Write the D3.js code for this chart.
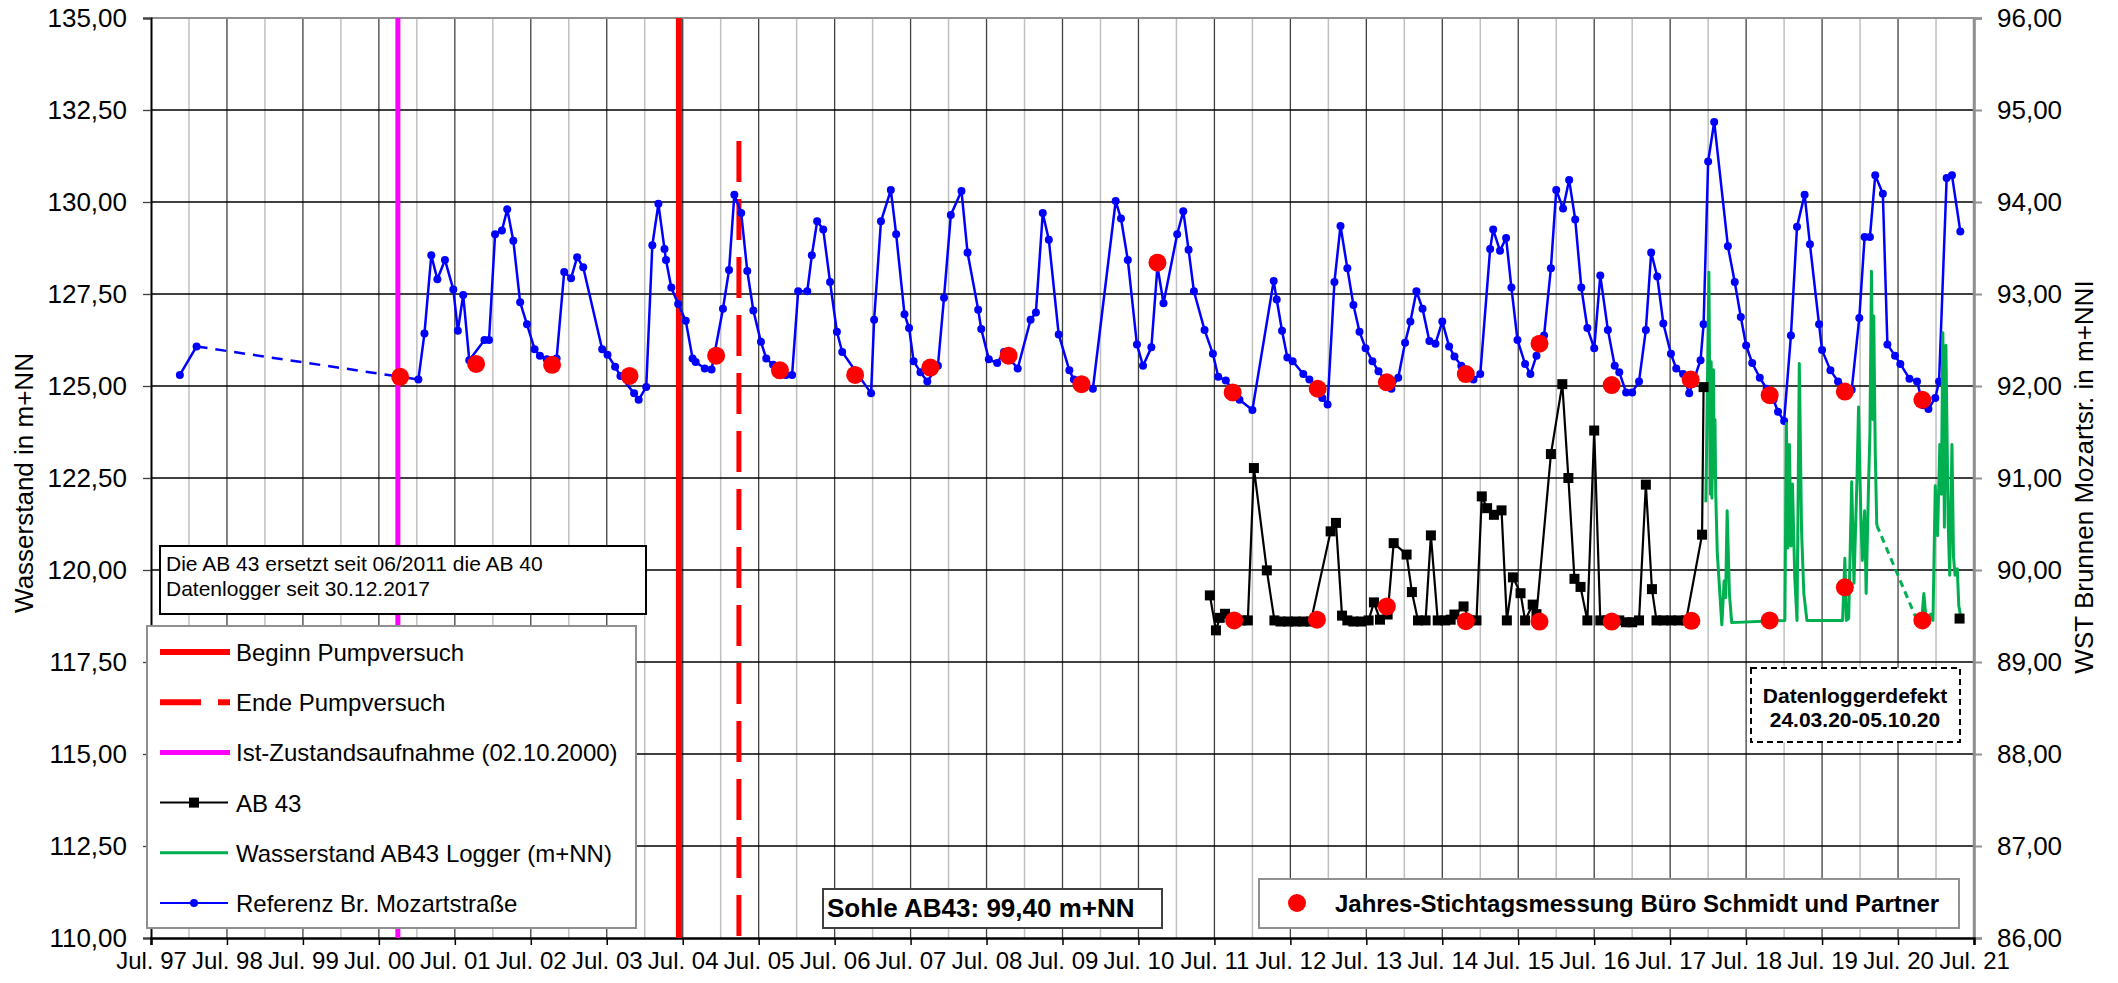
<!DOCTYPE html>
<html><head><meta charset="utf-8">
<script src="https://cdn.jsdelivr.net/npm/d3@7"></script>
<style>
body{margin:0;background:#fff}
svg{display:block}
text{font-family:"Liberation Sans",Arial,sans-serif;fill:#000}
</style>
</head><body>
<svg id="chart" width="2118" height="983"></svg>
<script>
// ---------------- data (decimal years, m+NN) ----------------
const xTickYears = [1997.5,1998.5,1999.5,2000.5,2001.5,2002.5,2003.5,2004.5,2005.5,2006.5,2007.5,2008.5,2009.5,2010.5,2011.5,2012.5,2013.5,2014.5,2015.5,2016.5,2017.5,2018.5,2019.5,2020.5,2021.5];
const xTickLabels = ["Jul. 97","Jul. 98","Jul. 99","Jul. 00","Jul. 01","Jul. 02","Jul. 03","Jul. 04","Jul. 05","Jul. 06","Jul. 07","Jul. 08","Jul. 09","Jul. 10","Jul. 11","Jul. 12","Jul. 13","Jul. 14","Jul. 15","Jul. 16","Jul. 17","Jul. 18","Jul. 19","Jul. 20","Jul. 21"];
const leftTicks = [110,112.5,115,117.5,120,122.5,125,127.5,130,132.5,135];
const rightTicks = [86,87,88,89,90,91,92,93,94,95,96];

// Referenz Br. Mozartstraße (right axis)
const refEarlyYears = [1997.88,1998.10];
const refEarlyLevels = [92.12,92.43];
const refYears = [2000.78,2001.02,2001.10,2001.19,2001.27,2001.37,2001.48,2001.54,2001.61,2001.69,2001.89,2001.95,2002.03,2002.12,2002.19,2002.27,2002.36,2002.45,2002.55,2002.62,2002.71,2002.84,2002.94,2003.03,2003.11,2003.19,2003.44,2003.51,2003.61,2003.68,2003.86,2003.92,2004.02,2004.10,2004.18,2004.26,2004.28,2004.35,2004.44,2004.54,2004.63,2004.67,2004.79,2004.88,2005.03,2005.11,2005.18,2005.27,2005.35,2005.43,2005.53,2005.60,2005.69,2005.86,2005.94,2006.02,2006.14,2006.20,2006.27,2006.35,2006.44,2006.53,2006.60,2006.98,2007.02,2007.11,2007.24,2007.31,2007.42,2007.48,2007.54,2007.63,2007.72,2007.86,2007.94,2008.03,2008.17,2008.25,2008.39,2008.43,2008.53,2008.64,2008.73,2008.91,2009.08,2009.15,2009.24,2009.32,2009.45,2009.59,2009.65,2009.90,2010.20,2010.27,2010.36,2010.48,2010.56,2010.67,2010.75,2010.83,2011.01,2011.09,2011.16,2011.23,2011.37,2011.48,2011.55,2011.65,2011.83,2012.00,2012.28,2012.32,2012.39,2012.46,2012.53,2012.67,2012.75,2012.92,2012.99,2013.08,2013.16,2013.25,2013.33,2013.41,2013.49,2013.58,2013.66,2013.83,2013.92,2014.01,2014.08,2014.16,2014.24,2014.33,2014.41,2014.50,2014.59,2014.66,2014.75,2014.91,2015.00,2015.13,2015.17,2015.26,2015.34,2015.41,2015.49,2015.59,2015.66,2015.74,2015.84,2015.93,2016.00,2016.09,2016.17,2016.25,2016.33,2016.41,2016.50,2016.58,2016.68,2016.77,2016.83,2016.92,2017.00,2017.09,2017.18,2017.25,2017.33,2017.41,2017.51,2017.58,2017.67,2017.75,2017.90,2017.94,2018.00,2018.08,2018.26,2018.35,2018.43,2018.50,2018.58,2018.68,2018.77,2018.86,2018.92,2019.00,2019.09,2019.17,2019.27,2019.34,2019.46,2019.50,2019.61,2019.71,2019.89,2019.99,2020.06,2020.13,2020.20,2020.30,2020.36,2020.46,2020.53,2020.65,2020.75,2020.83,2020.90,2020.99,2021.04,2021.14,2021.21,2021.32];
const refLevels = [92.10,92.07,92.57,93.42,93.16,93.37,93.05,92.60,92.99,92.28,92.50,92.50,93.65,93.69,93.92,93.58,92.91,92.67,92.40,92.33,92.29,92.30,93.24,93.17,93.40,93.29,92.40,92.34,92.21,92.11,91.92,91.85,91.99,93.53,93.98,93.49,93.37,93.07,92.89,92.71,92.30,92.26,92.19,92.18,92.84,93.26,94.08,93.88,93.25,92.82,92.48,92.30,92.23,92.12,92.12,93.03,93.03,93.42,93.79,93.70,93.13,92.59,92.37,91.92,92.72,93.79,94.13,93.65,92.78,92.63,92.27,92.15,92.05,92.22,92.96,93.86,94.12,93.45,92.83,92.62,92.29,92.25,92.37,92.19,92.72,92.80,93.88,93.59,92.56,92.17,92.07,91.97,94.01,93.82,93.37,92.45,92.22,92.42,93.30,92.90,93.65,93.90,93.48,93.03,92.61,92.35,92.10,92.06,91.85,91.74,93.14,92.94,92.60,92.31,92.27,92.13,92.07,91.87,91.80,93.13,93.74,93.28,92.88,92.59,92.41,92.27,92.16,91.97,92.09,92.47,92.70,93.03,92.84,92.49,92.46,92.70,92.43,92.32,92.22,92.07,92.13,93.49,93.70,93.47,93.61,93.07,92.50,92.24,92.13,92.33,92.55,93.28,94.13,93.93,94.24,93.81,93.07,92.63,92.41,93.20,92.61,92.22,92.15,91.93,91.93,92.05,92.61,93.45,93.19,92.68,92.35,92.19,92.13,91.92,92.28,92.67,94.44,94.87,93.52,93.13,92.75,92.44,92.25,92.09,91.97,91.85,91.72,91.62,92.55,93.73,94.08,93.54,92.67,92.39,92.17,92.05,91.96,92.74,93.62,93.62,94.29,94.09,92.45,92.33,92.24,92.08,92.05,91.79,91.75,91.87,92.05,94.26,94.29,93.68];

// AB 43 (left axis)
const ab43Years = [2011.44,2011.52,2011.57,2011.64,2011.76,2011.86,2011.94,2012.02,2012.19,2012.29,2012.37,2012.47,2012.57,2012.67,2012.77,2013.03,2013.10,2013.18,2013.25,2013.33,2013.43,2013.53,2013.60,2013.68,2013.78,2013.86,2014.03,2014.10,2014.18,2014.28,2014.35,2014.44,2014.54,2014.61,2014.66,2014.78,2014.86,2014.95,2015.02,2015.09,2015.18,2015.28,2015.35,2015.43,2015.53,2015.59,2015.69,2015.74,2015.93,2016.08,2016.16,2016.24,2016.32,2016.41,2016.50,2016.58,2016.68,2016.83,2016.92,2017.00,2017.09,2017.18,2017.26,2017.32,2017.41,2017.51,2017.61,2017.71,2017.92,2017.94];
const ab43Levels = [119.31,118.36,118.70,118.81,118.63,118.63,118.63,122.77,119.99,118.63,118.60,118.60,118.60,118.60,118.60,121.05,121.28,118.76,118.63,118.60,118.60,118.63,119.12,118.65,118.79,120.73,120.42,119.40,118.63,118.63,120.94,118.63,118.63,118.65,118.79,119.01,118.63,118.63,122.00,121.68,121.50,121.62,118.63,119.80,119.37,118.63,119.06,118.80,123.15,125.05,122.50,119.76,119.54,118.63,123.79,118.63,118.63,118.63,118.58,118.58,118.63,122.32,119.48,118.63,118.63,118.63,118.63,118.63,120.96,124.97];
const ab43LateYears = [2021.31];
const ab43LateLevels = [118.68];

// Wasserstand AB43 Logger (left axis)
const loggerYears = [2017.97,2018.01,2018.03,2018.04,2018.05,2018.07,2018.08,2018.09,2018.10,2018.12,2018.18,2018.21,2018.23,2018.25,2018.28,2018.31,2019.01,2019.03,2019.05,2019.07,2019.09,2019.11,2019.14,2019.17,2019.20,2019.23,2019.26,2019.30,2019.77,2019.80,2019.82,2019.85,2019.89,2019.92,2019.96,2019.98,2020.01,2020.03,2020.06,2020.08,2020.11,2020.13,2020.15,2020.17,2020.18,2020.20,2020.22];
const loggerLevels = [121.84,128.09,122.06,125.66,121.95,125.44,122.51,124.09,122.06,120.48,118.51,119.70,119.25,121.61,119.36,118.57,118.63,123.98,120.60,123.41,120.65,122.34,119.81,118.63,125.61,121.05,119.36,118.63,118.63,120.32,118.63,118.68,122.40,119.64,122.51,124.43,121.50,120.26,121.61,119.36,122.17,123.75,128.12,124.09,126.90,123.19,121.22];
const loggerLateYears = [2020.75,2020.81,2020.84,2020.87,2020.93,2020.96,2020.99,2021.02,2021.05,2021.07,2021.09,2021.11,2021.13,2021.16,2021.18,2021.21,2021.23,2021.25,2021.28,2021.30,2021.32];
const loggerLateLevels = [118.63,118.63,119.36,118.63,118.80,118.63,122.29,120.93,123.41,122.06,126.45,121.16,126.11,121.27,119.86,123.41,120.37,119.86,120.03,119.02,118.80];

// Jahres-Stichtagsmessung
const stichRefYears = [2000.78,2001.78,2002.78,2003.80,2004.94,2005.78,2006.77,2007.76,2008.79,2009.75,2010.75,2011.74,2012.86,2013.77,2014.81,2015.78,2016.73,2017.77,2018.81,2019.80,2020.82];
const stichRefLevels = [92.10,92.24,92.23,92.11,92.33,92.17,92.12,92.20,92.33,92.02,93.34,91.93,91.97,92.04,92.13,92.46,92.01,92.07,91.90,91.94,91.85];
const stichAbYears = [2011.76,2012.85,2013.77,2014.81,2015.78,2016.73,2017.78,2018.81,2019.80,2020.82];
const stichAbLevels = [118.63,118.65,119.01,118.61,118.60,118.60,118.62,118.63,119.53,118.63];

// event lines
const istZustand = 2000.75, pumpStart = 2004.45, pumpEnd = 2005.24;

// ---------------- drawing ----------------
const L = 151, R = 1974, T = 18, B = 938;
const svg = d3.select("#chart");
const x = d3.scaleLinear().domain([1997.5, 2021.5]).range([L, R]);
const yL = d3.scaleLinear().domain([110, 135]).range([B, T]);
const yR = d3.scaleLinear().domain([86, 96]).range([B, T]);
const de = d3.formatLocale({decimal: ",", thousands: ".", grouping: [3], currency: ["", "€"]});
const f2 = de.format(".2f");

svg.append("rect").attr("width", 2118).attr("height", 983).attr("fill", "#fff");

// minor vertical grid (January)
const g = svg.append("g");
g.selectAll(".vmin").data(xTickYears.slice(0, -1).map(d => d + 0.5)).join("line")
  .attr("x1", d => x(d)).attr("x2", d => x(d)).attr("y1", T).attr("y2", B)
  .attr("stroke", "#c0c0c0").attr("stroke-width", 1.5);
g.selectAll(".vmaj").data(xTickYears.slice(1, -1)).join("line")
  .attr("x1", d => x(d)).attr("x2", d => x(d)).attr("y1", T).attr("y2", B)
  .attr("stroke", "#404040").attr("stroke-width", 1.3);
g.selectAll(".hgrid").data(leftTicks.slice(1, -1)).join("line")
  .attr("x1", L).attr("x2", R).attr("y1", d => yL(d)).attr("y2", d => yL(d))
  .attr("stroke", "#000").attr("stroke-width", 1.3);
// plot border
svg.append("line").attr("x1", L).attr("x2", R).attr("y1", T).attr("y2", T).attr("stroke", "#909090").attr("stroke-width", 2);
svg.append("line").attr("x1", R).attr("x2", R).attr("y1", T).attr("y2", B).attr("stroke", "#909090").attr("stroke-width", 2.5);

// axes
const axL = d3.axisLeft(yL).tickValues(leftTicks).tickFormat(f2).tickSize(8).tickPadding(16);
const axR = d3.axisRight(yR).tickValues(rightTicks).tickFormat(f2).tickSize(8).tickPadding(15);
const axB = d3.axisBottom(x).tickValues(xTickYears).tickFormat((d, i) => xTickLabels[i]).tickSize(7).tickPadding(7);
const gL = svg.append("g").attr("transform", `translate(${L},0)`).call(axL);
const gR = svg.append("g").attr("transform", `translate(${R},0)`).call(axR);
const gB = svg.append("g").attr("transform", `translate(0,${B})`).call(axB);
[gL, gR, gB].forEach(a => {
  a.selectAll("text").style("font-size", "26px").attr("font-family", "'Liberation Sans',Arial,sans-serif").attr("fill", "#000");
  a.select(".domain").attr("stroke-width", 2);
});
gB.selectAll("text").style("font-size", "24px").attr("dy", "0.72em");
gL.selectAll("text").attr("dy", "0.34em");
gR.selectAll("text").attr("dy", "0.34em");
gL.selectAll(".tick line").attr("stroke", "#404040").attr("stroke-width", 1.3);
gR.selectAll(".tick line").attr("stroke", "#909090").attr("stroke-width", 2);
gR.select(".domain").attr("stroke", "#909090").attr("stroke-width", 2.5);
gB.selectAll(".tick line").attr("stroke", "#000").attr("stroke-width", 1.5);
gB.select(".domain").attr("stroke", "#000").attr("stroke-width", 2.5);
gL.select(".domain").attr("stroke", "#000");

// axis titles
svg.append("text").attr("transform", "translate(33,483) rotate(-90)").attr("text-anchor", "middle")
  .style("font-size", "26px").text("Wasserstand in m+NN");
svg.append("text").attr("transform", "translate(2093,477) rotate(-90)").attr("text-anchor", "middle")
  .style("font-size", "26px").text("WST Brunnen Mozartsr. in m+NNI");

// event lines
svg.append("line").attr("x1", x(istZustand)).attr("x2", x(istZustand)).attr("y1", T).attr("y2", B)
  .attr("stroke", "#ff00ff").attr("stroke-width", 5);
svg.append("line").attr("x1", x(pumpStart)).attr("x2", x(pumpStart)).attr("y1", T).attr("y2", B)
  .attr("stroke", "#ff0000").attr("stroke-width", 6);
svg.append("line").attr("x1", x(pumpEnd)).attr("x2", x(pumpEnd)).attr("y1", yL(131.66)).attr("y2", B)
  .attr("stroke", "#ff0000").attr("stroke-width", 5).attr("stroke-dasharray", "41,17");

// series
const zip = (xs, ys) => xs.map((d, i) => [d, ys[i]]);
const lineR = d3.line().x(d => x(d[0])).y(d => yR(d[1]));
const lineL = d3.line().x(d => x(d[0])).y(d => yL(d[1]));

const ref1 = zip(refEarlyYears, refEarlyLevels);
const ref2 = zip(refYears, refLevels);
svg.append("path").attr("d", lineR([ref1[ref1.length - 1], ref2[0]])).attr("fill", "none")
  .attr("stroke", "#0000ff").attr("stroke-width", 2.5).attr("stroke-dasharray", "11,8");
[ref1, ref2].forEach(s => svg.append("path").attr("d", lineR(s)).attr("fill", "none")
  .attr("stroke", "#0000ff").attr("stroke-width", 2.5).attr("stroke-linejoin", "round"));
svg.append("g").selectAll("circle").data(ref1.concat(ref2)).join("circle")
  .attr("cx", d => x(d[0])).attr("cy", d => yR(d[1])).attr("r", 4).attr("fill", "#0000ff");

const lg1 = zip(loggerYears, loggerLevels);
const lg2 = zip(loggerLateYears, loggerLateLevels);
svg.append("path").attr("d", lineL([lg1[lg1.length - 1], lg2[0]])).attr("fill", "none")
  .attr("stroke", "#00b050").attr("stroke-width", 3).attr("stroke-dasharray", "7,5");
[lg1, lg2].forEach(s => svg.append("path").attr("d", lineL(s)).attr("fill", "none")
  .attr("stroke", "#00b050").attr("stroke-width", 3).attr("stroke-linejoin", "round"));

const ab = zip(ab43Years, ab43Levels);
const abLate = zip(ab43LateYears, ab43LateLevels);
svg.append("path").attr("d", lineL(ab)).attr("fill", "none").attr("stroke", "#000").attr("stroke-width", 2.2);
svg.append("g").selectAll("rect").data(ab.concat(abLate)).join("rect")
  .attr("x", d => x(d[0]) - 5).attr("y", d => yL(d[1]) - 5).attr("width", 10).attr("height", 10).attr("fill", "#000");

svg.append("g").selectAll("circle").data(zip(stichRefYears, stichRefLevels)).join("circle")
  .attr("cx", d => x(d[0])).attr("cy", d => yR(d[1])).attr("r", 9).attr("fill", "#ff0000");
svg.append("g").selectAll("circle").data(zip(stichAbYears, stichAbLevels)).join("circle")
  .attr("cx", d => x(d[0])).attr("cy", d => yL(d[1])).attr("r", 9).attr("fill", "#ff0000");

// note box
svg.append("rect").attr("x", 160).attr("y", 546).attr("width", 486).attr("height", 68)
  .attr("fill", "#fff").attr("stroke", "#000").attr("stroke-width", 2);
svg.append("text").attr("x", 166).attr("y", 571).style("font-size", "21px").text("Die AB 43 ersetzt seit 06/2011 die AB 40");
svg.append("text").attr("x", 166).attr("y", 596).style("font-size", "21px").text("Datenlogger seit 30.12.2017");

// legend
const legendItems = ["Beginn Pumpversuch", "Ende Pumpversuch", "Ist-Zustandsaufnahme (02.10.2000)", "AB 43", "Wasserstand AB43 Logger (m+NN)", "Referenz Br. Mozartstraße"];
svg.append("rect").attr("x", 147).attr("y", 626).attr("width", 489).attr("height", 302)
  .attr("fill", "#fff").attr("stroke", "#909090").attr("stroke-width", 2);
const lgY = i => 652 + i * 50.2;
const leg = svg.append("g");
legendItems.forEach((t, i) => {
  leg.append("text").attr("x", 236).attr("y", lgY(i) + 9).style("font-size", "24px").text(t);
});
leg.append("line").attr("x1", 160).attr("x2", 230).attr("y1", lgY(0)).attr("y2", lgY(0)).attr("stroke", "#ff0000").attr("stroke-width", 6);
leg.append("line").attr("x1", 160).attr("x2", 230).attr("y1", lgY(1)).attr("y2", lgY(1)).attr("stroke", "#ff0000").attr("stroke-width", 6).attr("stroke-dasharray", "41,17,14");
leg.append("line").attr("x1", 160).attr("x2", 230).attr("y1", lgY(2)).attr("y2", lgY(2)).attr("stroke", "#ff00ff").attr("stroke-width", 5);
leg.append("line").attr("x1", 160).attr("x2", 228).attr("y1", lgY(3)).attr("y2", lgY(3)).attr("stroke", "#000").attr("stroke-width", 2);
leg.append("rect").attr("x", 189).attr("y", lgY(3) - 5).attr("width", 10).attr("height", 10).attr("fill", "#000");
leg.append("line").attr("x1", 160).attr("x2", 228).attr("y1", lgY(4)).attr("y2", lgY(4)).attr("stroke", "#00b050").attr("stroke-width", 3);
leg.append("line").attr("x1", 160).attr("x2", 228).attr("y1", lgY(5)).attr("y2", lgY(5)).attr("stroke", "#0000ff").attr("stroke-width", 2);
leg.append("circle").attr("cx", 194).attr("cy", lgY(5)).attr("r", 4).attr("fill", "#0000ff");

// Sohle box
svg.append("rect").attr("x", 823).attr("y", 889).attr("width", 339).attr("height", 39)
  .attr("fill", "#fff").attr("stroke", "#404040").attr("stroke-width", 2);
svg.append("text").attr("x", 827).attr("y", 917).style("font-size", "26px").style("font-weight", "bold").text("Sohle AB43: 99,40 m+NN");

// Stichtag legend
svg.append("rect").attr("x", 1259).attr("y", 879).attr("width", 700).attr("height", 49)
  .attr("fill", "#fff").attr("stroke", "#909090").attr("stroke-width", 2);
svg.append("circle").attr("cx", 1297).attr("cy", 903).attr("r", 9).attr("fill", "#ff0000");
svg.append("text").attr("x", 1335).attr("y", 912).style("font-size", "24px").style("font-weight", "bold").text("Jahres-Stichtagsmessung Büro Schmidt und Partner");

// Datenlogger box
svg.append("rect").attr("x", 1751).attr("y", 668).attr("width", 209).attr("height", 74)
  .attr("fill", "#fff").attr("stroke", "#000").attr("stroke-width", 2).attr("stroke-dasharray", "6,4");
svg.append("text").attr("x", 1855).attr("y", 703).attr("text-anchor", "middle").style("font-size", "21px").style("font-weight", "bold").text("Datenloggerdefekt");
svg.append("text").attr("x", 1855).attr("y", 727).attr("text-anchor", "middle").style("font-size", "21px").style("font-weight", "bold").text("24.03.20-05.10.20");
</script>
</body></html>
